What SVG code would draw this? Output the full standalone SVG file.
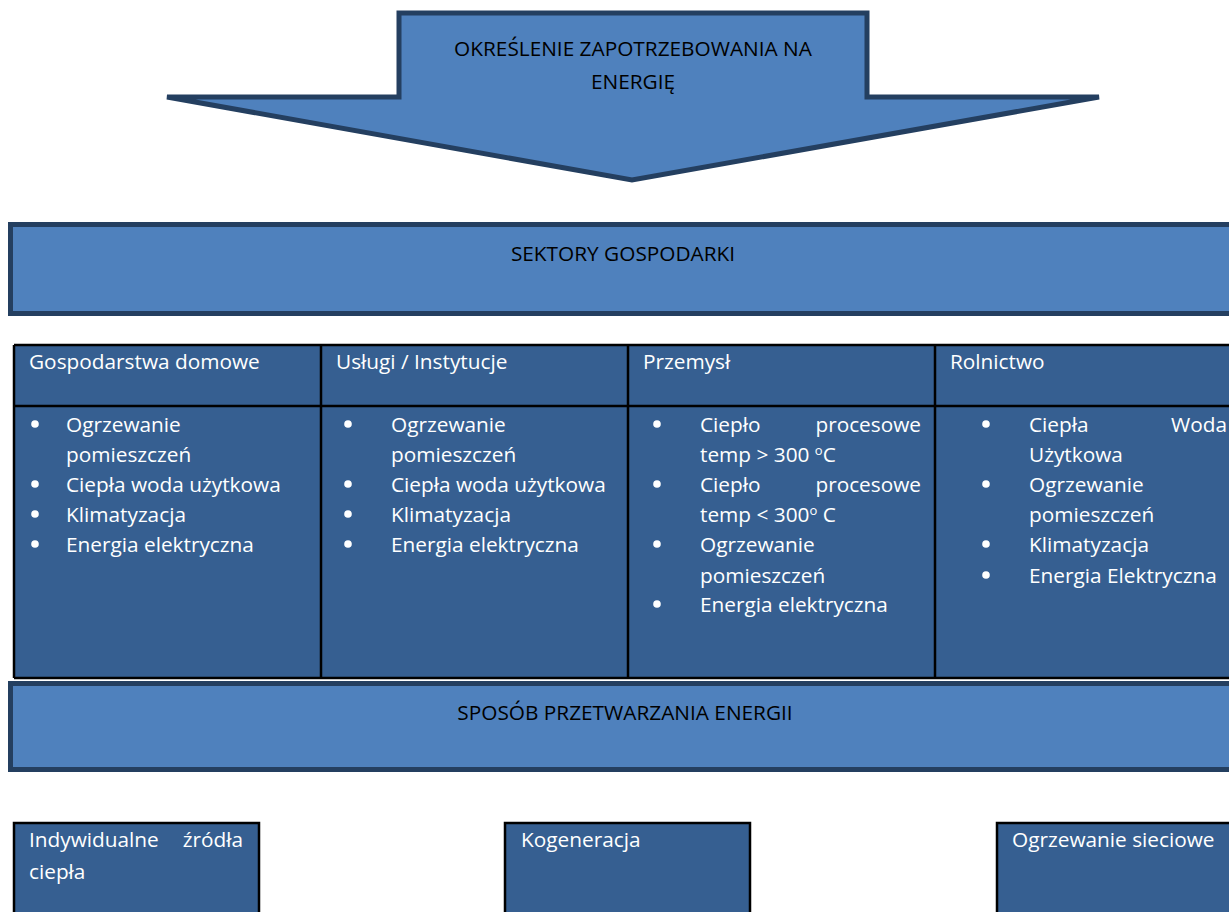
<svg xmlns="http://www.w3.org/2000/svg" width="1229" height="912" viewBox="0 0 1229 912">
<style>
.light{fill:#4F81BD;stroke:#243F60;stroke-width:5}
.dark{fill:#365F91;stroke:#000;stroke-width:2.5}
.grid{stroke:#000;stroke-width:2.5;fill:none}
.ttl{font-family:"Open Sans","Liberation Sans",sans-serif;font-size:20.8px;fill:#000}
.t{font-family:"Open Sans","Liberation Sans",sans-serif;font-size:20.8px;fill:#fff}
.sup{font-size:13px}
.b{fill:#fff}
</style>
<rect width="1229" height="912" fill="#fff"/>
<g id="arrow-demand">
<path class="light" stroke-width="4" stroke-linejoin="miter" d="M399,13 L867,13 L867,97 L1099,97 L632,180 L167,97 L399,97 Z"/>
<text class="ttl" x="633" y="56" text-anchor="middle">OKREŚLENIE ZAPOTRZEBOWANIA NA</text>
<text class="ttl" x="633" y="89" text-anchor="middle">ENERGIĘ</text>
</g>
<g id="sektory">
<rect class="light" x="10.5" y="224.5" width="1235" height="89"/>
<text class="ttl" x="623" y="261" text-anchor="middle">SEKTORY GOSPODARKI</text>
</g>
<g id="table-sectors">
<rect x="14" y="345" width="1230" height="333" fill="#365F91"/>
<path class="grid" d="M14,345 H1235 M14,406 H1235 M14,678 H1235 M14,345 V678 M321,345 V678 M628,345 V678 M935,345 V678"/>
<g id="col-gospodarstwa">
<text class="t" x="29" y="369">Gospodarstwa domowe</text>
<circle class="b" cx="35" cy="424" r="3.8"/>
<text class="t" x="66" y="432">Ogrzewanie</text>
<text class="t" x="66" y="462">pomieszczeń</text>
<circle class="b" cx="35" cy="484" r="3.8"/>
<text class="t" x="66" y="492">Ciepła woda użytkowa</text>
<circle class="b" cx="35" cy="514" r="3.8"/>
<text class="t" x="66" y="522">Klimatyzacja</text>
<circle class="b" cx="35" cy="544" r="3.8"/>
<text class="t" x="66" y="552">Energia elektryczna</text>
</g>
<g id="col-uslugi">
<text class="t" x="336" y="369">Usługi / Instytucje</text>
<circle class="b" cx="348" cy="424" r="3.8"/>
<text class="t" x="391" y="432">Ogrzewanie</text>
<text class="t" x="391" y="462">pomieszczeń</text>
<circle class="b" cx="348" cy="484" r="3.8"/>
<text class="t" x="391" y="492">Ciepła woda użytkowa</text>
<circle class="b" cx="348" cy="514" r="3.8"/>
<text class="t" x="391" y="522">Klimatyzacja</text>
<circle class="b" cx="348" cy="544" r="3.8"/>
<text class="t" x="391" y="552">Energia elektryczna</text>
</g>
<g id="col-przemysl">
<text class="t" x="643" y="369">Przemysł</text>
<circle class="b" cx="657" cy="424" r="3.8"/>
<text class="t" x="700" y="432">Ciepło</text>
<text class="t" x="921" y="432" text-anchor="end">procesowe</text>
<text class="t" x="700" y="462">temp &gt; 300 <tspan class="sup" dy="-7">o</tspan><tspan dy="7">C</tspan></text>
<circle class="b" cx="657" cy="484" r="3.8"/>
<text class="t" x="700" y="492">Ciepło</text>
<text class="t" x="921" y="492" text-anchor="end">procesowe</text>
<text class="t" x="700" y="522">temp &lt; 300<tspan class="sup" dy="-7">o</tspan><tspan dy="7"> C</tspan></text>
<circle class="b" cx="657" cy="544" r="3.8"/>
<text class="t" x="700" y="552">Ogrzewanie</text>
<text class="t" x="700" y="583">pomieszczeń</text>
<circle class="b" cx="657" cy="604" r="3.8"/>
<text class="t" x="700" y="612">Energia elektryczna</text>
</g>
<g id="col-rolnictwo">
<text class="t" x="950" y="369">Rolnictwo</text>
<circle class="b" cx="986" cy="424" r="3.8"/>
<text class="t" x="1029" y="432">Ciepła</text>
<text class="t" x="1227" y="432" text-anchor="end">Woda</text>
<text class="t" x="1029" y="462">Użytkowa</text>
<circle class="b" cx="986" cy="484" r="3.8"/>
<text class="t" x="1029" y="492">Ogrzewanie</text>
<text class="t" x="1029" y="522">pomieszczeń</text>
<circle class="b" cx="986" cy="544" r="3.8"/>
<text class="t" x="1029" y="552">Klimatyzacja</text>
<circle class="b" cx="986" cy="575" r="3.8"/>
<text class="t" x="1029" y="583">Energia Elektryczna</text>
</g>
</g>
<g id="sposob">
<rect class="light" x="10.5" y="683.5" width="1235" height="86"/>
<text class="ttl" x="625" y="720" text-anchor="middle">SPOSÓB PRZETWARZANIA ENERGII</text>
</g>
<g id="indywidualne">
<rect class="dark" x="14" y="823" width="245" height="100"/>
<text class="t" x="29" y="847">Indywidualne</text>
<text class="t" x="243" y="847" text-anchor="end">źródła</text>
<text class="t" x="29" y="879">ciepła</text>
</g>
<g id="kogeneracja">
<rect class="dark" x="505" y="823" width="245" height="100"/>
<text class="t" x="521" y="847">Kogeneracja</text>
</g>
<g id="ogrzewanie-sieciowe">
<rect class="dark" x="997" y="823" width="245" height="100"/>
<text class="t" x="1012" y="847">Ogrzewanie sieciowe</text>
</g>
<g id="connectors"/>
</svg>
